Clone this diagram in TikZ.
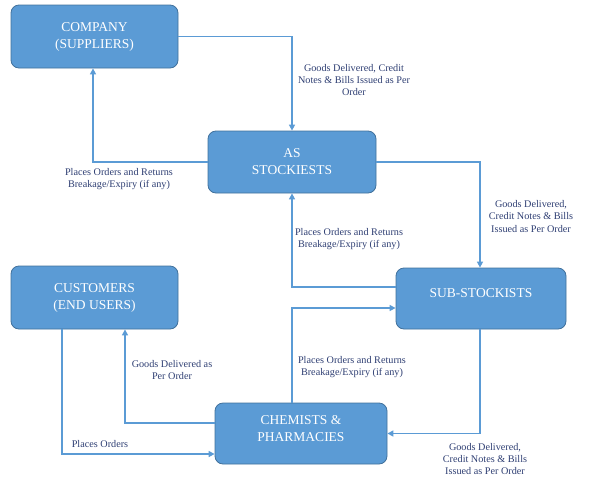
\documentclass[tikz,border=0pt]{standalone}
\usepackage{fontspec}
\setmainfont{Liberation Serif}
\newfontfamily\tnr{Liberation Serif}
\usetikzlibrary{arrows.meta}
\definecolor{boxfill}{HTML}{5B9BD5}
\definecolor{boxline}{HTML}{41719C}
\definecolor{connc}{HTML}{5B9BD5}
\definecolor{labc}{HTML}{2F3F73}
\begin{document}
\begin{tikzpicture}[x=1pt,y=-1pt,
  box/.style={draw=boxline,line width=0.8pt,fill=boxfill,rounded corners=8pt,inner sep=0pt},
  boxtext/.style={text=white,font=\tnr\fontsize{13.5}{17}\selectfont,align=center,inner sep=0pt},
  conn/.style={draw=connc,line width=1.8pt,-{Triangle[length=6pt,width=6pt]}},
  lab/.style={text=labc,font=\tnr\fontsize{10.2}{12.3}\selectfont,align=center,inner sep=0pt}]
\useasboundingbox (0,0) rectangle (600,480);
% boxes
\node[box,minimum width=167pt,minimum height=63pt] (comp) at (94.5,36.5) {};
\node[boxtext] (compt) at (94.5,37) {COMPANY\\(SUPPLIERS)};
\node[box,minimum width=168pt,minimum height=62pt] (as) at (292,162) {};
\node[boxtext] (ast) at (292,162) {AS\\STOCKIESTS};
\node[box,minimum width=170pt,minimum height=61pt] (sub) at (481,298.5) {};
\node[boxtext] (subt) at (481,293) {SUB-STOCKISTS};
\node[box,minimum width=167pt,minimum height=63pt] (cust) at (94.5,297.5) {};
\node[boxtext] (custt) at (94.5,298) {CUSTOMERS\\(END USERS)};
\node[box,minimum width=172pt,minimum height=61pt] (chem) at (301,433.5) {};
\node[boxtext] (chemt) at (301,429) {CHEMISTS \&\\PHARMACIES};
% connectors
\draw[conn] (comp.east) -| (as.north);
\draw[conn] (as.west) -| ([xshift=-1.5pt]comp.south);
\draw[conn] (as.east) -| ([xshift=-1pt]sub.north);
\draw[conn] ([yshift=11.5pt]sub.west) -| (as.south);
\draw[conn] ([xshift=-9pt]chem.north) |- ([yshift=-9.5pt]sub.west);
\draw[conn] ([xshift=-1pt]sub.south) |- (chem.east);
\draw[conn] ([yshift=10.5pt]chem.west) -| ([xshift=30.5pt]cust.south);
\draw[conn] ([xshift=-32.5pt]cust.south) |- ([yshift=-20.5pt]chem.west);
% labels
\node[lab] (l1) at (354,80) {Goods Delivered, Credit\\Notes \& Bills Issued as Per\\Order};
\node[lab] (l2) at (119,179) {Places Orders and Returns\\Breakage/Expiry (if any)};
\node[lab] (l3) at (531,216.5) {Goods Delivered,\\Credit Notes \& Bills\\Issued as Per Order};
\node[lab] (l4) at (349,239) {Places Orders and Returns\\Breakage/Expiry (if any)};
\node[lab] (l5) at (352,367) {Places Orders and Returns\\Breakage/Expiry (if any)};
\node[lab] (l6) at (485,459) {Goods Delivered,\\Credit Notes \& Bills\\Issued as Per Order};
\node[lab] (l7) at (172,370) {Goods Delivered as\\Per Order};
\node[lab] (l8) at (100,444) {Places Orders};
\end{tikzpicture}
\end{document}
